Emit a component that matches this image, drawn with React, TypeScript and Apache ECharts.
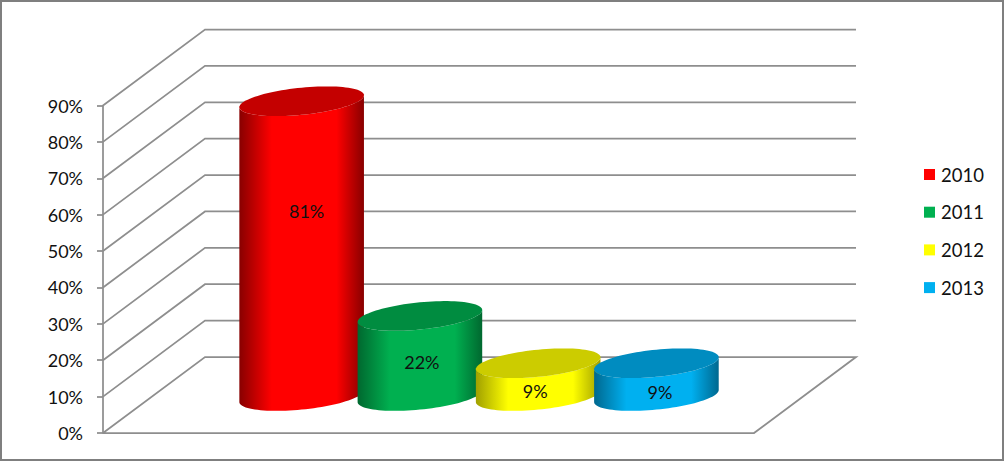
import React, { useEffect, useRef } from "react";
import * as echarts from "echarts";

const years = ["2010", "2011", "2012", "2013"];
const values = [81, 22, 9, 9];
const valueLabels = ["81%", "22%", "9%", "9%"];
const axisTicks = [0, 10, 20, 30, 40, 50, 60, 70, 80, 90];

const baseColors = ["#ff0000", "#00b050", "#ffff00", "#00b0f0"];
const edgeColors = ["#880000", "#00682f", "#a0a000", "#00688f"];
const capColors = ["#c40000", "#008c40", "#cccc00", "#008cc0"];
const labelNudgeX = [4, 1, -4, 2.5];
const labelNudgeY = [-37.5, 6, 11, 12];

const GRID_COLOR = "#8e8e8e";
const FONT = "Lato, Carlito, sans-serif";
const X_MIN = -0.757;
const X_MAX = 4.748;
const DEPTH_X = 102;
const DEPTH_Y = 76;
const RX = 62.3;
const RY = 13.6;
const SHEAR = 6;

function arc(cx: number, cy: number, from: number, to: number, n = 48) {
  const pts: number[][] = [];
  for (let i = 0; i <= n; i++) {
    const t = from + ((to - from) * i) / n;
    pts.push([cx + RX * Math.cos(t), cy + RY * Math.sin(t) - SHEAR * Math.cos(t)]);
  }
  return pts;
}

function cylinderSeries(idx: number) {
  return {
    name: years[idx],
    type: "custom",
    coordinateSystem: "cartesian2d",
    clip: false,
    z: 3 + idx,
    itemStyle: { color: baseColors[idx] },
    data: [[idx + 0.5, values[idx]]],
    renderItem: (_p: any, api: any) => {
      const x = api.value(0);
      const v = api.value(1);
      const base = api.coord([x, 0]);
      const top = api.coord([x, v]);
      const cx = base[0] + DEPTH_X / 2 - 1;
      const cyBase = base[1] - DEPTH_Y / 2 + 1;
      const cyTop = top[1] - DEPTH_Y / 2 + 1;
      const body = [
        ...arc(cx, cyTop, Math.PI, 0),
        ...arc(cx, cyBase, 0, Math.PI),
      ];
      const cap = arc(cx, cyTop, 0, Math.PI * 2, 96);
      const sideFill = new echarts.graphic.LinearGradient(0, 0, 1, 0, [
        { offset: 0, color: edgeColors[idx] },
        { offset: 0.26, color: baseColors[idx] },
        { offset: 0.78, color: baseColors[idx] },
        { offset: 1, color: edgeColors[idx] },
      ]);
      return {
        type: "group",
        children: [
          { type: "polygon", shape: { points: body }, style: { fill: sideFill } },
          { type: "polygon", shape: { points: cap }, style: { fill: capColors[idx] } },
          {
            type: "text",
            style: {
              text: valueLabels[idx],
              x: cx + labelNudgeX[idx] + 1,
              y: (cyBase + cyTop) / 2 + labelNudgeY[idx],
              align: "center",
              verticalAlign: "middle",
              fontSize: 18,
              fontFamily: FONT,
              fill: "#111",
            },
          },
        ],
      };
    },
  };
}

const wallSeries = {
  name: "walls",
  type: "custom",
  coordinateSystem: "cartesian2d",
  clip: false,
  silent: true,
  z: 1,
  data: axisTicks.map((t) => [X_MIN, t]),
  renderItem: (_p: any, api: any) => {
    const v = api.value(1);
    const front = api.coord([X_MIN, v]);
    const frontEnd = api.coord([X_MAX, v]);
    const back = [front[0] + DEPTH_X, front[1] - DEPTH_Y];
    const backEnd = [frontEnd[0] + DEPTH_X, frontEnd[1] - DEPTH_Y];
    const points = v === 0
      ? [front, back, backEnd, frontEnd, front]
      : [front, back, backEnd];
    return {
      type: "polyline",
      shape: { points },
      style: { stroke: GRID_COLOR, lineWidth: 1.75, fill: "none" },
    };
  },
};

export default function App() {
  const ref = useRef<HTMLDivElement>(null);
  useEffect(() => {
    document.body.style.margin = "0";
    const chart = echarts.init(ref.current!, undefined, { renderer: "svg" });
    chart.setOption({
      animation: false,
      backgroundColor: "#ffffff",
      grid: { left: 103, right: 250, top: 105.5, bottom: 28 },
      xAxis: { type: "value", min: X_MIN, max: X_MAX, show: false },
      yAxis: {
        type: "value",
        min: 0,
        max: 90,
        interval: 10,
        axisLine: { show: true, onZero: false, lineStyle: { color: GRID_COLOR, width: 1.75 } },
        axisTick: { show: true, length: 6, lineStyle: { color: GRID_COLOR, width: 1.75 } },
        splitLine: { show: false },
        axisLabel: {
          formatter: "{value}%",
          margin: 20,
          fontSize: 18,
          fontFamily: FONT,
          color: "#111",
          padding: [4, 0, 0, 0],
        },
      },
      legend: {
        data: years,
        orient: "vertical",
        left: 924,
        top: 165,
        padding: 0,
        itemWidth: 11,
        itemHeight: 11,
        itemGap: 18.7,
        icon: "rect",
        textStyle: { fontSize: 18.5, fontFamily: FONT, color: "#111", padding: [0, 0, 0, 1] },
      },
      graphic: [
        {
          type: "rect",
          shape: { x: 1, y: 1, width: 1002, height: 459 },
          style: { fill: "none", stroke: "#7f7f7f", lineWidth: 2 },
          z: 100,
        },
      ],
      series: [wallSeries, ...years.map((_, i) => cylinderSeries(i))],
    });
    return () => chart.dispose();
  }, []);
  return (
    <div
      ref={ref}
      style={{ position: "absolute", left: 0, top: 0, width: 1004, height: 461 }}
    />
  );
}
